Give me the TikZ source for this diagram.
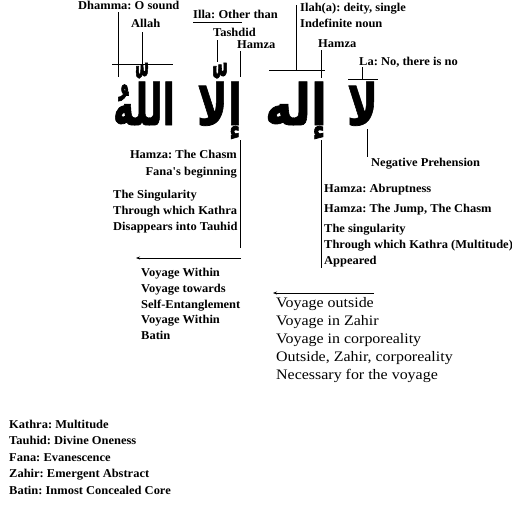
\documentclass[tikz,border=0pt]{standalone}
\usepackage{fontspec}
\usepackage{graphicx}
\setmainfont{Liberation Serif}
\newfontfamily\lbf{Liberation Serif}[FakeStretch=1.04]
\newfontfamily\lrg{Liberation Serif}[FakeStretch=1.1]
\newfontfamily\arabicfont[Script=Arabic,BoldFeatures={FakeBold=1.3}]{DejaVu Sans}
\TeXXeTstate=1
\usetikzlibrary{arrows.meta}
\newcommand{\arw}[2]{\resizebox{#1pt}{\height}{\arabicfont\bfseries\fontsize{57}{66}\selectfont\beginR #2\endR}}
\begin{document}
\frenchspacing
\begin{tikzpicture}[x=1pt,y=-1pt,
  lbl/.style={inner sep=0pt,anchor=base west,font=\frenchspacing\lbf\bfseries\fontsize{12}{14}\selectfont},
  lblr/.style={lbl,anchor=base east},
  big/.style={inner sep=0pt,anchor=base west,font=\frenchspacing\lrg\fontsize{14.5}{16}\selectfont},
  ar/.style={inner sep=0pt,anchor=base},
  ln/.style={line width=0.9pt},
  arr/.style={line width=0.9pt,-{Stealth[length=4pt,width=3pt]}}]
\useasboundingbox (0,0) rectangle (512,512);
\fill[white] (0,0) rectangle (512,512);
% Arabic words
\node[ar] (w1) at (144,125) {\arw{62}{اللّهُ}};
\node[ar] (w2) at (219.5,125) {\arw{45}{إلّا}};
\node[ar] (w3) at (296,125) {\arw{62}{إله}};
\node[ar] (w4) at (362.5,125) {\arw{31}{لا}};
% top labels
\node[lbl] (dh) at (78,9) {Dhamma: O sound};
\node[lbl] (al) at (131,27) {Allah};
\node[lbl] (il) at (193,18) {Illa: Other than};
\node[lbl] (ta) at (213,36) {Tashdid};
\node[lbl] (h1) at (237,48) {Hamza};
\node[lbl] (ila) at (300,11.5) {Ilah(a): deity, single};
\node[lbl] (ind) at (300,27) {Indefinite noun};
\node[lbl] (h2) at (318,47) {Hamza};
\node[lbl] (la) at (359,65) {La: No, there is no};
% top lines
\coordinate (dhA) at (118,12); \coordinate (dhB) at (118,77);
\draw[ln] (dhA) -- (dhB);
\coordinate (alL) at (112,64); \coordinate (alR) at (173,64);
\draw[ln] (alL) -- (alR);
\coordinate (alA) at (142,32); \coordinate (alB) at (142,64);
\draw[ln] (alA) -- (alB);
\coordinate (ilL) at (193,22); \coordinate (ilR) at (242,22);
\draw[ln] (ilL) -- (ilR);
\coordinate (taA) at (217,40); \coordinate (taB) at (217,62);
\draw[ln] (taA) -- (taB);
\coordinate (h1A) at (240,51); \coordinate (h1B) at (240,77);
\draw[ln] (h1A) -- (h1B);
\coordinate (ilaA) at (296,5); \coordinate (ilaB) at (296,70);
\draw[ln] (ilaA) -- (ilaB);
\coordinate (ilaL) at (269,70); \coordinate (ilaR) at (325,70);
\draw[ln] (ilaL) -- (ilaR);
\coordinate (h2A) at (321,50); \coordinate (h2B) at (321,78);
\draw[ln] (h2A) -- (h2B);
\coordinate (laA) at (362,67); \coordinate (laB) at (362,79);
\draw[ln] (laA) -- (laB);
\coordinate (laL) at (348,79); \coordinate (laR) at (378,79);
\draw[ln] (laL) -- (laR);
% lower left
\coordinate (v1A) at (240,140); \coordinate (v1B) at (240,248);
\draw[ln] (v1A) -- (v1B);
\coordinate (a1R) at (241,258); \coordinate (a1L) at (136,258);
\draw[arr] (a1R) -- (a1L);
\node[lblr] (hc) at (237,158) {Hamza: The Chasm};
\node[lblr] (fb) at (237,175) {Fana's beginning};
\node[lbl] (s1) at (113,198) {The Singularity};
\node[lbl] (s2) at (113,214) {Through which Kathra};
\node[lbl] (s3) at (113,230) {Disappears into Tauhid};
\node[lbl] (vw1) at (141,276) {Voyage Within};
\node[lbl] (vw2) at (141,292) {Voyage towards};
\node[lbl] (vw3) at (141,308) {Self-Entanglement};
\node[lbl] (vw4) at (141,323) {Voyage Within};
\node[lbl] (vw5) at (141,339) {Batin};
% lower right
\coordinate (npA) at (367,129); \coordinate (npB) at (367,157);
\draw[ln] (npA) -- (npB);
\node[lbl] (np) at (371,166) {Negative Prehension};
\coordinate (v2A) at (321,140); \coordinate (v2B) at (321,268);
\draw[ln] (v2A) -- (v2B);
\node[lbl] (ha) at (324,192) {Hamza: Abruptness};
\node[lbl] (hj) at (324,212) {Hamza: The Jump, The Chasm};
\node[lbl] (sg) at (324,232) {The singularity};
\node[lbl] (tw) at (324,248) {Through which Kathra (Multitude)};
\node[lbl] (ap) at (324,264) {Appeared};
\coordinate (a2R) at (374,293); \coordinate (a2L) at (273,293);
\draw[arr] (a2R) -- (a2L);
\node[big] (vo1) at (276,307) {Voyage outside};
\node[big] (vo2) at (276,325) {Voyage in Zahir};
\node[big] (vo3) at (276,343) {Voyage in corporeality};
\node[big] (vo4) at (276,361) {Outside, Zahir, corporeality};
\node[big] (vo5) at (276,379) {Necessary for the voyage};
% legend
\node[lbl] (g1) at (9,428) {Kathra: Multitude};
\node[lbl] (g2) at (9,444) {Tauhid: Divine Oneness};
\node[lbl] (g3) at (9,461) {Fana: Evanescence};
\node[lbl] (g4) at (9,477) {Zahir: Emergent Abstract};
\node[lbl] (g5) at (9,494) {Batin: Inmost Concealed Core};
\end{tikzpicture}
\end{document}
